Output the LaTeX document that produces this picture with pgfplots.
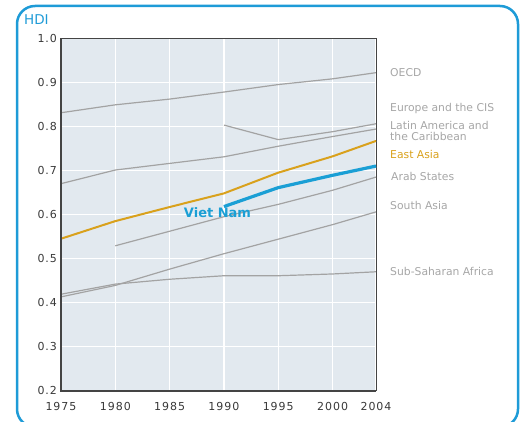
\documentclass[border=0pt]{standalone}
\usepackage{pgfplots}
\pgfplotsset{compat=1.18}
\usepackage{fontspec}
\setmainfont{DejaVu Sans}
\newfontfamily\tickfont[LetterSpace=9]{DejaVu Sans}
\definecolor{frameblue}{HTML}{1E9BD7}
\definecolor{vnblue}{HTML}{1A9FD5}
\definecolor{eagold}{HTML}{D9A11C}
\definecolor{lgray}{HTML}{A3A3A3}
\definecolor{labgray}{HTML}{A6A6A6}
\definecolor{bgfill}{HTML}{E2E9EF}
\definecolor{axdark}{HTML}{444444}
\begin{document}
\begin{tikzpicture}[x=1bp,y=1bp]
\useasboundingbox (0,0) rectangle (524,421);
\clip (0,0) rectangle (524,421);
\draw[frameblue, line width=2.5bp, rounded corners=18bp] (17,-6) rectangle (518,415);
\node[anchor=west, inner sep=0, text=frameblue, font=\fontsize{13.5bp}{15bp}\selectfont] at (24,401) {HDI};
\begin{axis}[
  at={(61bp,30.3bp)}, anchor=south west,
  scale only axis, width=315bp, height=352.4bp,
  xmin=1975, xmax=2004, ymin=0.2, ymax=1.0,
  xtick={1975,1980,1985,1990,1995,2000,2004},
  ytick={0.2,0.3,0.4,0.5,0.6,0.7,0.8,0.9,1.0},
  xticklabels={1975,1980,1985,1990,1995,2000,2004},
  yticklabels={0.2,0.3,0.4,0.5,0.6,0.7,0.8,0.9,1.0},
  major tick length=0pt,
  /pgf/number format/assume math mode=true,
  tick label style={font=\tickfont\fontsize{11bp}{13bp}\selectfont, text=black!78},
  xticklabel style={yshift=-8bp},
  yticklabel style={xshift=-0.5bp},
  grid=major, major grid style={white, line width=1.3bp},
  axis background/.style={fill=bgfill},
  axis line style={draw=axdark, line width=1bp},
  clip=false,
]
\addplot[lgray, line width=1.2bp] coordinates {(1975,0.831)(1980,0.849)(1985,0.862)(1990,0.878)(1995,0.895)(2000,0.908)(2004,0.922)};
\addplot[lgray, line width=1.2bp] coordinates {(1990,0.803)(1995,0.770)(2000,0.788)(2004,0.806)};
\addplot[lgray, line width=1.2bp] coordinates {(1975,0.670)(1980,0.701)(1985,0.716)(1990,0.731)(1995,0.755)(2000,0.777)(2004,0.794)};
\addplot[lgray, line width=1.2bp] coordinates {(1980,0.529)(1985,0.562)(1990,0.595)(1995,0.623)(2000,0.655)(2004,0.685)};
\addplot[lgray, line width=1.2bp] coordinates {(1975,0.413)(1980,0.439)(1985,0.476)(1990,0.511)(1995,0.544)(2000,0.577)(2004,0.606)};
\addplot[lgray, line width=1.2bp] coordinates {(1975,0.419)(1980,0.442)(1985,0.453)(1990,0.461)(1995,0.461)(2000,0.465)(2004,0.470)};
\addplot[eagold, line width=2bp] coordinates {(1975,0.545)(1980,0.585)(1985,0.617)(1990,0.648)(1995,0.695)(2000,0.732)(2004,0.767)};
\addplot[vnblue, line width=3.2bp] coordinates {(1990,0.618)(1995,0.661)(2000,0.689)(2004,0.710)};
\draw[axdark, line width=2bp] (rel axis cs:0,1) -- (rel axis cs:0,0) -- (rel axis cs:1,0);
\end{axis}
\begin{scope}[font=\fontsize{10.8bp}{11bp}\selectfont, text=labgray]
\node[anchor=west, inner sep=0] at (390,348) {OECD};
\node[anchor=west, inner sep=0] at (390,312.5) {Europe and the CIS};
\node[anchor=west, inner sep=0, align=left] at (390,290) {Latin America and\\[-0.5bp]the Caribbean};
\node[anchor=west, inner sep=0, text=eagold] at (390,266.7) {East Asia};
\node[anchor=west, inner sep=0] at (391,244.3) {Arab States};
\node[anchor=west, inner sep=0] at (390,215.7) {South Asia};
\node[anchor=west, inner sep=0] at (390,149.3) {Sub-Saharan Africa};
\end{scope}
\node[text=vnblue, font=\bfseries\fontsize{13bp}{14bp}\selectfont, inner sep=0] at (217.5,208) {Viet Nam};
\end{tikzpicture}
\end{document}
